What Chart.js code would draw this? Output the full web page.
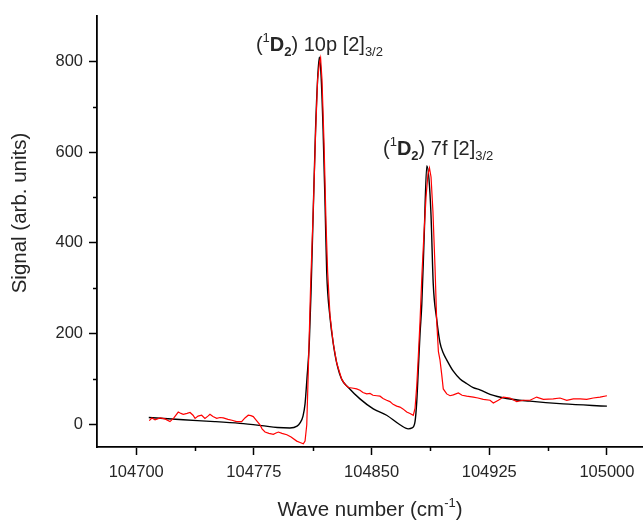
<!DOCTYPE html>
<html>
<head>
<meta charset="utf-8">
<script src="https://cdn.jsdelivr.net/npm/chart.js@4"></script>
<style>
  html, body { margin: 0; padding: 0; background: #fff; }
  canvas { display: block; }
</style>
</head>
<body>
<canvas id="chart" width="643" height="528"></canvas>
<script>
// fitted line (black)
const fitWave = [104708, 104730, 104750, 104766, 104780, 104790, 104798, 104802.5, 104804.4,
  104806.3, 104807.6, 104808.8, 104810.3, 104811.4, 104812.9, 104814.3, 104815.6, 104816.7,
  104817.8, 104819.1, 104820.4, 104821.4, 104823.5, 104825.6, 104827.8, 104831, 104835.2,
  104842.6, 104851.1, 104859.6, 104868.1, 104873.4, 104875.8, 104877.7, 104878.8, 104879.8,
  104880.9, 104882, 104883.4, 104885.2, 104886.6, 104887.9, 104889.3, 104891.5, 104893.6,
  104895.7, 104897.9, 104902.1, 104906.4, 104910.6, 104914.8, 104919.1, 104925.5, 104936.1,
  104950.9, 104972.2, 105000];
const fitSignal = [15, 10, 6, 2, -3, -7, -8, -4, 3,
  18, 45, 100, 178, 290, 480, 650, 760, 809,
  770, 650, 480, 336, 236, 178, 135, 99, 81,
  56, 34, 20, -1, -10, -8, 6, 50, 121,
  200, 264, 400, 570, 540, 460, 310, 232, 180,
  157, 142, 117, 100, 90, 81, 76, 66, 57,
  51, 45, 40];

// measured signal (red)
const expWave = [104708.3, 104710, 104712, 104715.2, 104718.3, 104721.5, 104724, 104726.8, 104728.5,
  104730, 104732.4, 104734.3, 104736.2, 104737.5, 104739.4, 104741.7, 104743.8, 104745.7,
  104747, 104748.9, 104751.3, 104753.4, 104755.5, 104758.5, 104761, 104764, 104767.2,
  104769.3, 104771.4, 104773.1, 104774.6, 104776.3, 104778.9, 104780.2, 104782.1, 104784.6,
  104787.4, 104789.1, 104790.6, 104792.9, 104796, 104798.7, 104802.3, 104804.4, 104806.5,
  104807.6, 104808.7, 104809.7, 104811.1, 104812.9, 104814.3, 104815.6, 104816.9, 104817.5,
  104818.4, 104819.7, 104821, 104822, 104823.5, 104825.6, 104827.8, 104831, 104833.1,
  104835.2, 104837.5, 104840.5, 104842.6, 104844.5, 104846.9, 104849, 104850.9, 104853.3,
  104855.4, 104857.3, 104859.6, 104861.7, 104863.7, 104866, 104868.1, 104870, 104872.4,
  104874.5, 104876.6, 104877.7, 104878.8, 104879.8, 104880.9, 104882.1, 104883.4, 104884.7,
  104885.9, 104886.9, 104887.9, 104889.1, 104890.4, 104891.5, 104892.6, 104893.6, 104894.7,
  104895.7, 104897.9, 104900, 104902.1, 104905.3, 104907.7, 104910.6, 104912.7, 104914.9,
  104917.8, 104921.2, 104925.5, 104927.6, 104930.8, 104934, 104938.2, 104942.5, 104946.7,
  104951, 104955.2, 104959.5, 104965.8, 104970.1, 104974.4, 104978.6, 104982.9, 104987.1,
  104991.3, 104995.6, 105000];
const expSignal = [8, 14, 10, 14, 12, 6, 14, 27, 24,
  22, 24, 26, 20, 13, 18, 20, 13, 18,
  22, 17, 13, 15, 14, 11, 9, 6, 6,
  14, 20, 19, 17, 10, -1, -10, -17, -20,
  -22, -19, -17, -20, -23, -28, -37, -40, -43,
  -37, -1, 121, 300, 480, 640, 760, 800, 808,
  760, 620, 440, 336, 240, 178, 135, 99, 88,
  81, 80, 78, 75, 70, 67, 68, 64, 63,
  62, 57, 53, 50, 44, 40, 38, 34, 27,
  24, 20, 35, 85, 150, 228, 330, 420, 500,
  550, 565, 545, 470, 350, 228, 160, 142, 110,
  78, 67, 63, 65, 69, 64, 62, 61, 60,
  58, 55, 53, 47, 53, 60, 58, 50, 53,
  53, 60, 55, 56, 58, 53, 56, 56, 55,
  58, 60, 63];

const xTicks = [104700, 104775, 104850, 104925, 105000];
const xMinor = [104737.5, 104812.5, 104887.5, 104962.5];
const yTicks = [0, 200, 400, 600, 800];
const yMinor = [100, 300, 500, 700];

const textColor = "#262626";
const family = "'Liberation Sans', Arial, sans-serif";

function toPoints(xs, ys) {
  return xs.map((x, i) => ({ x: x, y: ys[i] }));
}

// draws a run of text pieces with sub/superscripts
function drawRich(ctx, parts, x, y) {
  let cx = x;
  parts.forEach(p => {
    ctx.font = (p.bold ? "bold " : "") + p.size + "px " + family;
    ctx.fillText(p.t, cx, y + (p.dy || 0));
    cx += ctx.measureText(p.t).width;
  });
  return cx - x;
}

function labelParts(level) {
  return [
    { t: "(", size: 20 },
    { t: "1", size: 13, dy: -9 },
    { t: "D", size: 20, bold: true },
    { t: "2", size: 13, bold: true, dy: 5 },
    { t: ") " + level + " [2]", size: 20 },
    { t: "3/2", size: 13, dy: 5 }
  ];
}

const extras = {
  id: "extras",
  afterDraw(chart) {
    const ctx = chart.ctx;
    const x = chart.scales.x, y = chart.scales.y;
    const area = chart.chartArea;
    ctx.save();
    ctx.strokeStyle = "#000";
    ctx.lineWidth = 1.5;
    ctx.beginPath();
    xMinor.forEach(v => {
      const px = Math.round(x.getPixelForValue(v)) + 0.5;
      ctx.moveTo(px, area.bottom);
      ctx.lineTo(px, area.bottom + 4);
    });
    yMinor.forEach(v => {
      const py = Math.round(y.getPixelForValue(v)) + 0.5;
      ctx.moveTo(area.left, py);
      ctx.lineTo(area.left - 4, py);
    });
    ctx.stroke();

    ctx.fillStyle = textColor;
    ctx.textBaseline = "alphabetic";
    ctx.textAlign = "left";
    drawRich(ctx, labelParts("10p"), x.getPixelForValue(104776.3), y.getPixelForValue(822));
    drawRich(ctx, labelParts("7f"), x.getPixelForValue(104857.3), y.getPixelForValue(594));

    // x title with superscript
    const xParts = [
      { t: "Wave number (cm", size: 20.5 },
      { t: "-1", size: 13, dy: -9 },
      { t: ")", size: 20.5 }
    ];
    let w = 0;
    xParts.forEach(p => { ctx.font = p.size + "px " + family; w += ctx.measureText(p.t).width; });
    drawRich(ctx, xParts, (area.left + area.right) / 2 - w / 2, 516);

    // y title
    ctx.translate(26, 213);
    ctx.rotate(-Math.PI / 2);
    ctx.textAlign = "center";
    ctx.font = "20.5px " + family;
    ctx.fillText("Signal (arb. units)", 0, 0);
    ctx.restore();
  }
};

const ctx = document.getElementById("chart").getContext("2d");
const tickFont = { family: family, size: 16.5 };
const conf = {
  type: "line",
  data: {
    datasets: [{
      data: toPoints(expWave, expSignal),
      borderColor: "#ff0000",
      borderWidth: 1.2,
      pointRadius: 0,
      tension: 0
    }, {
      data: toPoints(fitWave, fitSignal),
      borderColor: "#000000",
      borderWidth: 1.4,
      pointRadius: 0,
      cubicInterpolationMode: "monotone"
    }]
  },
  options: {
    responsive: false,
    animation: false,
    layout: { padding: { top: 5, right: 0, left: 0, bottom: 0 } },
    plugins: { legend: { display: false }, tooltip: { enabled: false } },
    scales: {
      x: {
        type: "linear",
        min: 104675,
        max: 105023,
        afterBuildTicks: s => { s.ticks = xTicks.map(v => ({ value: v })); },
        afterFit: s => { s.height = 81; },
        grid: { drawOnChartArea: false, tickLength: 8, tickWidth: 1.5, tickColor: "#000" },
        border: { color: "#000", width: 1.8 },
        ticks: { font: tickFont, color: textColor, padding: 8, autoSkip: false, maxRotation: 0,
          callback: v => String(v) }
      },
      y: {
        min: -50,
        max: 900,
        afterBuildTicks: s => { s.ticks = yTicks.map(v => ({ value: v })); },
        afterFit: s => { s.width = 97; },
        grid: { drawOnChartArea: false, tickLength: 8, tickWidth: 1.5, tickColor: "#000" },
        border: { color: "#000", width: 1.8 },
        ticks: { font: tickFont, color: textColor, padding: 6, autoSkip: false,
          callback: v => String(v) }
      }
    }
  },
  plugins: [extras]
};
const chart = new Chart(ctx, conf);
</script>
</body>
</html>
